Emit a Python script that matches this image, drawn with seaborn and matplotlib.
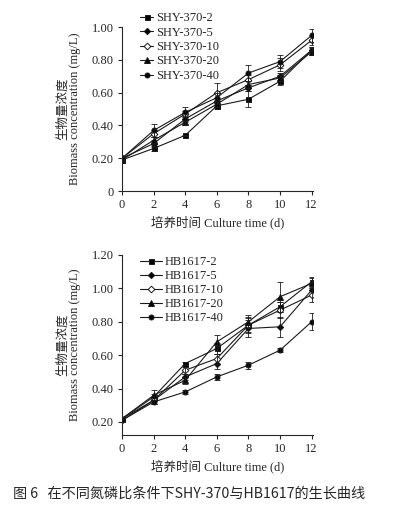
import numpy as np
import pandas as pd
import matplotlib
matplotlib.use('Agg')
import matplotlib.pyplot as plt
import seaborn as sns

days = [0, 2, 4, 6, 8, 10, 12]

shy_names = ['SHY-370-2', 'SHY-370-5', 'SHY-370-10', 'SHY-370-20', 'SHY-370-40']
shy_2 = [0.19, 0.26, 0.34, 0.52, 0.56, 0.67, 0.86]
shy_5 = [0.20, 0.29, 0.44, 0.55, 0.63, 0.70, 0.86]
shy_10 = [0.20, 0.35, 0.47, 0.60, 0.68, 0.77, 0.92]
shy_20 = [0.19, 0.31, 0.42, 0.53, 0.65, 0.69, 0.85]
shy_40 = [0.20, 0.37, 0.48, 0.57, 0.72, 0.79, 0.95]
shy_err_2 = [0.01, 0.015, 0.005, 0.02, 0.05, 0.02, 0.02]
shy_err_5 = [0.01, 0.02, 0.02, 0.02, 0.02, 0.02, 0.02]
shy_err_10 = [0.01, 0.02, 0.02, 0.06, 0.03, 0.04, 0.03]
shy_err_20 = [0.01, 0.02, 0.01, 0.02, 0.02, 0.02, 0.02]
shy_err_40 = [0.01, 0.04, 0.03, 0.03, 0.05, 0.04, 0.04]

hb_names = ['HB1617-2', 'HB1617-5', 'HB1617-10', 'HB1617-20', 'HB1617-40']
hb_2 = [0.22, 0.35, 0.55, 0.64, 0.78, 0.89, 1.04]
hb_5 = [0.22, 0.33, 0.47, 0.55, 0.76, 0.77, 0.99]
hb_10 = [0.21, 0.33, 0.51, 0.58, 0.78, 0.87, 0.96]
hb_20 = [0.22, 0.36, 0.45, 0.68, 0.80, 0.95, 1.03]
hb_40 = [0.21, 0.32, 0.38, 0.47, 0.54, 0.63, 0.80]
hb_err_2 = [0.01, 0.02, 0.01, 0.03, 0.04, 0.03, 0.03]
hb_err_5 = [0.01, 0.02, 0.02, 0.03, 0.05, 0.06, 0.03]
hb_err_10 = [0.01, 0.02, 0.02, 0.03, 0.05, 0.05, 0.04]
hb_err_20 = [0.01, 0.03, 0.02, 0.04, 0.04, 0.09, 0.03]
hb_err_40 = [0.01, 0.01, 0.01, 0.02, 0.02, 0.01, 0.05]

# marker: (shape, face)
styles = [('s', 'k'), ('D', 'k'), ('D', 'white'), ('^', 'k'), ('o', 'k')]
msizes = [3.6, 3.2, 3.4, 4.0, 3.6]

sns.set_style('ticks')
plt.rcParams['font.family'] = ['Liberation Serif', 'Noto Sans CJK SC']
plt.rcParams['axes.linewidth'] = 0.8

fs = 9
fig = plt.figure(figsize=(3.95, 5.22), dpi=100)
ax1 = fig.add_axes([0.309, 0.634, 0.484, 0.314])
ax2 = fig.add_axes([0.309, 0.1667, 0.484, 0.3448])

def draw(ax, names, series, errs):
	for i in range(len(names)):
		m, fc = styles[i]
		sns.lineplot(x=days, y=series[i], ax=ax, color='#1a1a1a', lw=0.8,
			marker=m, markersize=msizes[i], markerfacecolor=fc,
			markeredgecolor='#1a1a1a', markeredgewidth=0.7, label=names[i])
		ax.errorbar(days, series[i], yerr=errs[i], fmt='none', ecolor='#1a1a1a',
			elinewidth=0.6, capsize=2, capthick=0.6)
	ax.set_xlim(0, 12.1)
	ax.set_xticks(days)
	ax.tick_params(direction='out', length=3, width=0.8, labelsize=fs, pad=3)
	sns.despine(ax=ax)
	ax.set_xlabel('培养时间 Culture time (d)', fontsize=fs, labelpad=3)
	ax.set_ylabel('生物量浓度\nBiomass concentration (mg/L)', fontsize=fs, linespacing=1.05)
	ax.yaxis.set_label_coords(-0.215, 0.5)

draw(ax1, shy_names, [shy_2, shy_5, shy_10, shy_20, shy_40],
	[shy_err_2, shy_err_5, shy_err_10, shy_err_20, shy_err_40])
ax1.set_ylim(0, 1.0)
ax1.set_yticks([0, 0.2, 0.4, 0.6, 0.8, 1.0])
ax1.set_yticklabels(['0', '0.20', '0.40', '0.60', '0.80', '1.00'])
ax1.legend(loc='upper left', bbox_to_anchor=(140 / 395, 1 - 12 / 522),
	bbox_transform=fig.transFigure, frameon=False,
	fontsize=fs, handlelength=1.05, handletextpad=0.25, labelspacing=0.2,
	borderpad=0, borderaxespad=0)

draw(ax2, hb_names, [hb_2, hb_5, hb_10, hb_20, hb_40],
	[hb_err_2, hb_err_5, hb_err_10, hb_err_20, hb_err_40])
ax2.set_ylim(0.122, 1.2)
ax2.set_yticks([0.2, 0.4, 0.6, 0.8, 1.0, 1.2])
ax2.set_yticklabels(['0.20', '0.40', '0.60', '0.80', '1.00', '1.20'])
ax2.legend(loc='upper left', bbox_to_anchor=(140 / 395, 1 - 256 / 522),
	bbox_transform=fig.transFigure, frameon=False,
	fontsize=fs, handlelength=1.75, handletextpad=0.25, labelspacing=0.17,
	borderpad=0, borderaxespad=0)

fig.text(0.033, 1 - 494 / 522, '图 6   在不同氮磷比条件下SHY-370与HB1617的生长曲线',
	fontsize=10.2, va='center', family=['Noto Sans CJK SC', 'DejaVu Sans'])

fig.savefig('out.png', dpi=100)
